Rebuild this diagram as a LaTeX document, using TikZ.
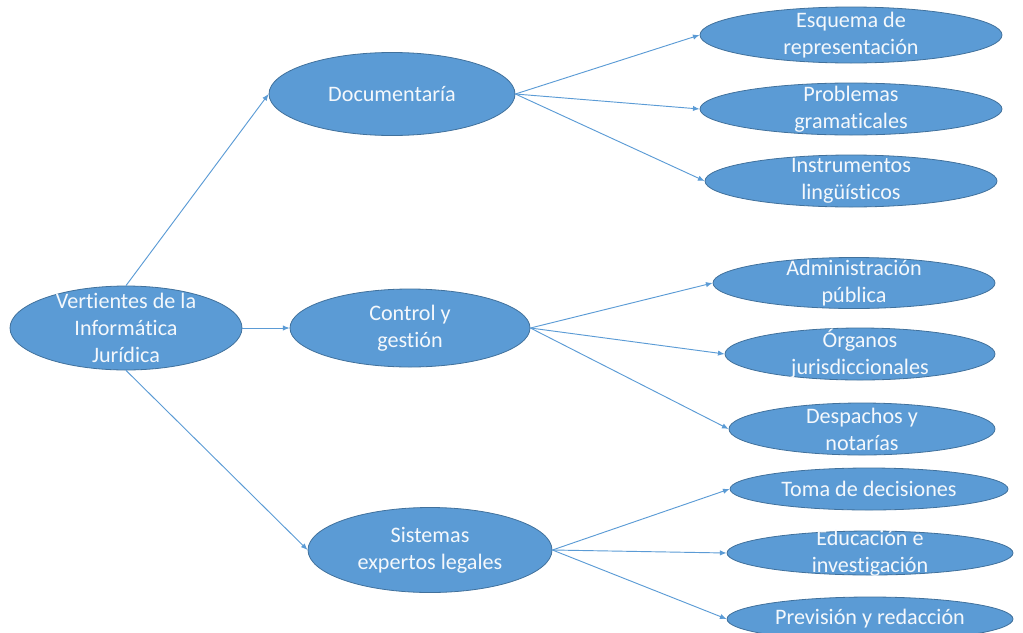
\documentclass[tikz,border=0pt]{standalone}
\usepackage{fontspec}
\setmainfont{Carlito}[Ligatures={NoCommon}]
\usetikzlibrary{shapes.geometric,arrows.meta}
\definecolor{ofill}{HTML}{5B9BD5}
\definecolor{oline}{HTML}{41719C}
\definecolor{conn}{HTML}{5B9BD5}
\definecolor{txt}{HTML}{F4F8FC}
\tikzset{
  oval/.style={ellipse, fill=ofill, draw=oline, line width=0.6pt, inner sep=0pt},
  lbl/.style={text=txt, align=center, inner sep=0pt, font=\fontsize{16.6pt}{20.3pt}\selectfont},
  link/.style={draw=conn, line width=0.7pt, -{Latex[length=5pt,width=4pt]}}
}
\begin{document}
\begin{tikzpicture}[x=0.75pt,y=-0.75pt]
\useasboundingbox (0,0) rectangle (1023,632);
\clip (0,0) rectangle (1023,632);
% ellipses
\node[oval, minimum width=232*0.75pt, minimum height=84*0.75pt] (root) at (126,328) {};
\node[oval, minimum width=246*0.75pt, minimum height=83*0.75pt] (doc) at (392,94) {};
\node[oval, minimum width=240*0.75pt, minimum height=78*0.75pt] (ctl) at (410,328) {};
\node[oval, minimum width=244*0.75pt, minimum height=85*0.75pt] (sis) at (430,550) {};
\node[oval, minimum width=302*0.75pt, minimum height=56*0.75pt] (esq) at (851,35) {};
\node[oval, minimum width=302*0.75pt, minimum height=52*0.75pt] (pro) at (851,109) {};
\node[oval, minimum width=292*0.75pt, minimum height=52*0.75pt] (ins) at (851,181) {};
\node[oval, minimum width=282*0.75pt, minimum height=51*0.75pt] (adm) at (854,283) {};
\node[oval, minimum width=270*0.75pt, minimum height=52*0.75pt] (org) at (860,354) {};
\node[oval, minimum width=266*0.75pt, minimum height=52*0.75pt] (des) at (862,429) {};
\node[oval, minimum width=278*0.75pt, minimum height=42*0.75pt] (tom) at (869,489) {};
\node[oval, minimum width=286*0.75pt, minimum height=44*0.75pt] (edu) at (870,553) {};
\node[oval, minimum width=286*0.75pt, minimum height=44*0.75pt] (pre) at (870,619) {};
% labels
\node[lbl] (root-t) at (root) {Vertientes de la\\Informática\\Jurídica};
\node[lbl] (doc-t) at (doc) {Documentaría};
\node[lbl] (ctl-t) at (ctl) {Control y\\gestión};
\node[lbl] (sis-t) at (sis) {Sistemas\\expertos legales};
\node[lbl] (esq-t) at (esq) {Esquema de\\representación};
\node[lbl] (pro-t) at (pro) {Problemas\\gramaticales};
\node[lbl] (ins-t) at (ins) {Instrumentos\\lingüísticos};
\node[lbl] (adm-t) at (adm) {Administración\\pública};
\node[lbl] (org-t) at (org) {Órganos\\jurisdiccionales};
\node[lbl] (des-t) at (des) {Despachos y\\notarías};
\node[lbl] (tom-t) at (tom) {Toma de decisiones};
\node[lbl] (edu-t) at (edu) {Educación e\\investigación};
\node[lbl] (pre-t) at (pre) {Previsión y redacción};
% connectors
\draw[link] (root.north) -- (doc.west);
\draw[link] (root.east) -- (ctl.west);
\draw[link] (root.south) -- (sis.west);
\draw[link] (doc.east) -- (esq.west);
\draw[link] (doc.east) -- (pro.west);
\draw[link] (doc.east) -- (ins.west);
\draw[link] (ctl.east) -- (adm.west);
\draw[link] (ctl.east) -- (org.west);
\draw[link] (ctl.east) -- (des.west);
\draw[link] (sis.east) -- (tom.west);
\draw[link] (sis.east) -- (edu.west);
\draw[link] (sis.east) -- (pre.west);
\end{tikzpicture}
\end{document}
